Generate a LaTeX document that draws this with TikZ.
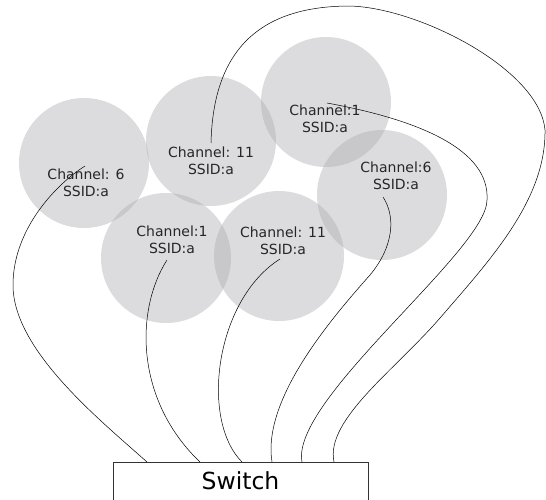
\documentclass[tikz,border=0pt]{standalone}
\usepackage{fontspec}
\setmainfont{DejaVu Sans}
\definecolor{cellgray}{RGB}{174,174,178}

\begin{document}
\begin{tikzpicture}[x=1pt,y=-1pt,
  cell/.style={circle,minimum size=130pt,inner sep=0pt,fill=cellgray,fill opacity=0.43},
  chan/.style={align=center,text=black!85,inner sep=0pt,font=\fontsize{14}{17}\selectfont},
  wire/.style={line width=0.5pt},
  box/.style={draw=black!80,line width=0.7pt,minimum width=255pt,minimum height=40pt,inner sep=0pt,text depth=4pt,font=\fontsize{23.5}{28}\selectfont}]
  \useasboundingbox (0,0) rectangle (546,499);
  \node[cell] (c1) at (84,163) {};
  \node[cell] (c2) at (211,141) {};
  \node[cell] (c3) at (326,102) {};
  \node[cell] (c4) at (382,195) {};
  \node[cell] (c5) at (166,258) {};
  \node[cell] (c6) at (279,256) {};
  \node[box,anchor=north] (sw) at (240.5,462) {Switch};
  \coordinate (a1) at (85,166);
  \coordinate (a2) at (211,143);
  \coordinate (a3) at (327,103);
  \coordinate (a4) at (383,197);
  \coordinate (a5) at (167,260);
  \coordinate (a6) at (280,259);
  \coordinate (e1) at (147,462);
  \coordinate (e2) at (334,462);
  \coordinate (e3) at (302,462);
  \coordinate (e4) at (272,462);
  \coordinate (e5) at (200,462);
  \coordinate (e6) at (242,462);
  \draw[wire] (a1) .. controls (55,185) and (13,230) .. (13,285)
    .. controls (13,350) and (100,420) .. (e1);
  \draw[wire] (a2) .. controls (213,60) and (250,6) .. (350,6)
    .. controls (420,8) and (540,70) .. (545,130)
    .. controls (546,200) and (490,260) .. (440,318)
    .. controls (395,370) and (325,420) .. (e2);
  \draw[wire] (a3) .. controls (420,120) and (490,150) .. (487,200)
    .. controls (487,250) and (290,400) .. (e3);
  \draw[wire] (a4) .. controls (395,215) and (395,245) .. (370,275)
    .. controls (330,320) and (262,400) .. (e4);
  \draw[wire] (a5) .. controls (135,310) and (135,400) .. (e5);
  \draw[wire] (a6) .. controls (215,300) and (200,420) .. (e6);
  \node[chan] (t1) at (86,183) {Channel: 6\\SSID:a};
  \node[chan] (t2) at (211,161) {Channel: 11\\SSID:a};
  \node[chan] (t3) at (325,119) {Channel:1\\SSID:a};
  \node[chan] (t4) at (396,176) {Channel:6\\SSID:a};
  \node[chan] (t5) at (172,240) {Channel:1\\SSID:a};
  \node[chan] (t6) at (283,241) {Channel: 11\\SSID:a};
\end{tikzpicture}
\end{document}
